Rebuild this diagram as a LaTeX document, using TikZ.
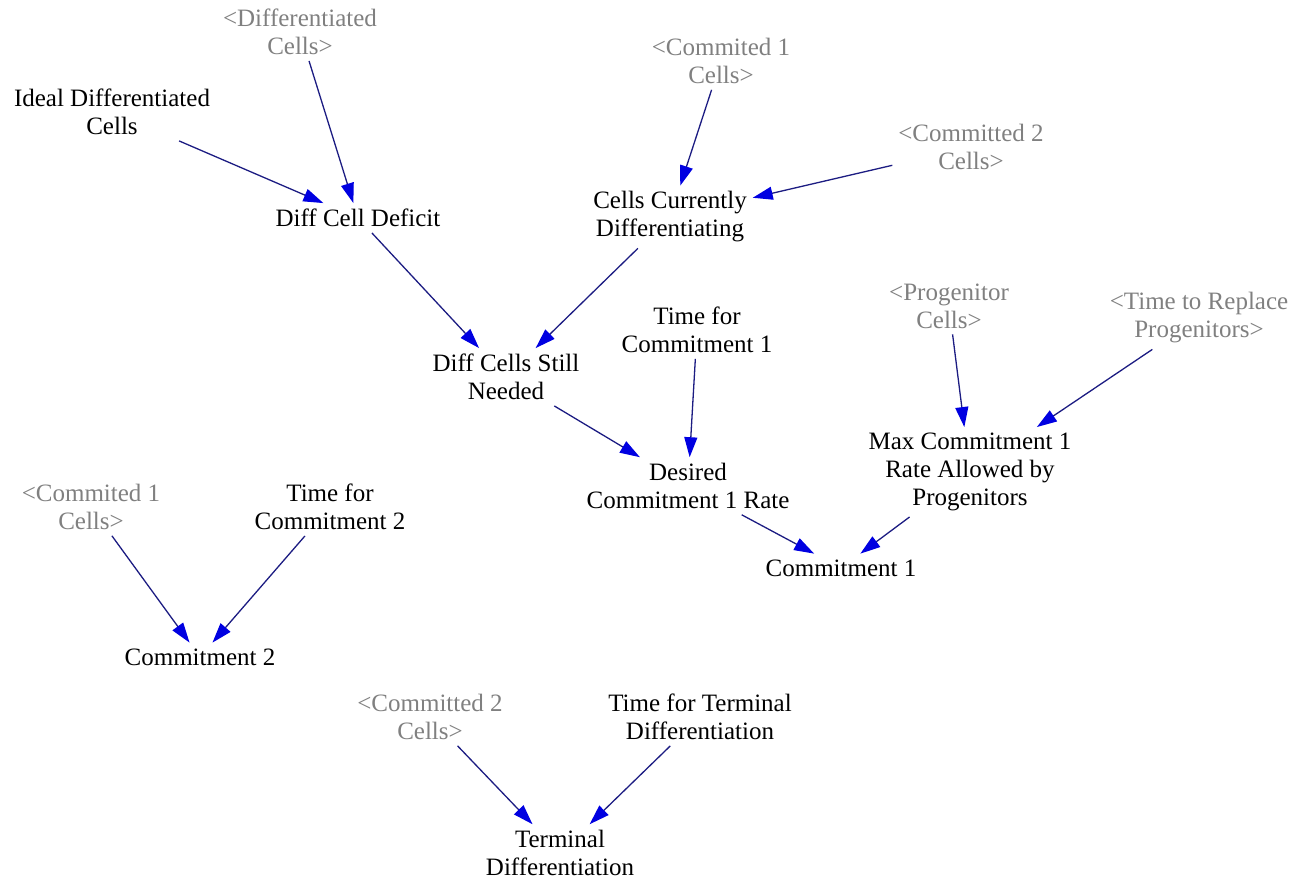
\documentclass[tikz,border=0pt]{standalone}
\usepackage{fontspec}
\setmainfont{Liberation Serif}[Ligatures={NoCommon}]
\newfontfamily\varfont{Liberation Serif}[Ligatures={NoCommon}]
\usetikzlibrary{arrows.meta}
\definecolor{linkcol}{RGB}{28,28,130}
\definecolor{headcol}{RGB}{0,0,225}
\definecolor{shadowcol}{RGB}{128,128,128}
\begin{document}
\varfont
\begin{tikzpicture}[x=0.5pt,y=-0.5pt,
  font=\varfont\fontsize{12.5}{14}\selectfont,
  var/.style={align=center,inner sep=2.8pt,font=\varfont\fontsize{12.5}{14}\selectfont,text=black},
  shadow/.style={var,text=shadowcol},
  link/.style={draw=linkcol,line width=0.65pt,
    -{Triangle[length=10pt,width=6.5pt,color=headcol]}}]
\useasboundingbox (0,0) rectangle (1300,879);

% variables
\node[shadow] (diffcells) at (300,32) {<Differentiated\\Cells>};
\node[var] (ideal) at (112,112) {Ideal Differentiated\\Cells};
\node[var] (deficit) at (358,218) {Diff Cell Deficit};
\node[shadow] (comtop) at (721,61) {<Commited 1\\Cells>};
\node[shadow] (comtwotop) at (971,147) {<Committed 2\\Cells>};
\node[var] (current) at (670,217) {Cells Currently\\Differentiating};
\node[var] (needed) at (506,377) {Diff Cells Still\\Needed};
\node[var] (tcone) at (697,330) {Time for\\Commitment 1};
\node[var] (desired) at (688,486) {Desired\\Commitment 1 Rate};
\node[shadow] (prog) at (949,306) {<Progenitor\\Cells>};
\node[shadow] (replace) at (1199,318) {<Time to Replace\\Progenitors>};
\node[var] (maxrate) at (970,472) {Max Commitment 1\\Rate Allowed by\\Progenitors};
\node[var] (commitone) at (841,568) {Commitment 1};
\node[shadow] (comleft) at (91,507) {<Commited 1\\Cells>};
\node[var] (tctwo) at (330,507) {Time for\\Commitment 2};
\node[var] (committwo) at (200,657) {Commitment 2};
\node[shadow] (comtwobot) at (430,717) {<Committed 2\\Cells>};
\node[var] (tterm) at (700,717) {Time for Terminal\\Differentiation};
\node[var] (terminal) at (560,853) {Terminal\\Differentiation};

% causal links
\draw[link] (ideal) -- (deficit);
\draw[link] (diffcells) -- (deficit);
\draw[link] (comtop) -- (current);
\draw[link] (comtwotop) -- (current);
\draw[link] (deficit) -- (needed);
\draw[link] (current) -- (needed);
\draw[link] (needed) -- (desired);
\draw[link] (tcone) -- (desired);
\draw[link] (prog) -- (maxrate);
\draw[link] (replace) -- (maxrate);
\draw[link] (desired) -- (commitone);
\draw[link] (maxrate) -- (commitone);
\draw[link] (comleft) -- (committwo);
\draw[link] (tctwo) -- (committwo);
\draw[link] (comtwobot) -- (terminal);
\draw[link] (tterm) -- (terminal);
\end{tikzpicture}
\end{document}
